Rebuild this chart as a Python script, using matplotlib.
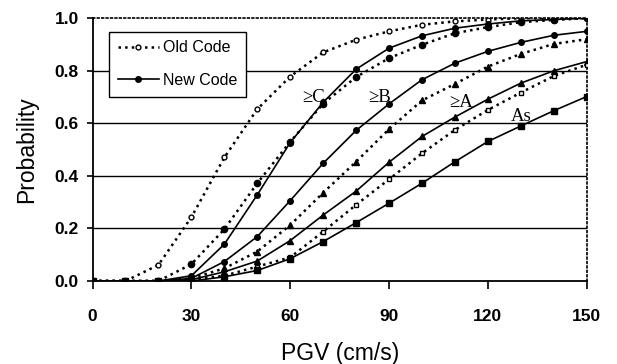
import matplotlib
matplotlib.use("Agg")
import matplotlib.pyplot as plt

pgv = [0, 10, 20, 30, 40, 50, 60, 70, 80, 90, 100, 110, 120, 130, 140, 150]

old_C = [0, 0, 0.061, 0.243, 0.47, 0.654, 0.778, 0.87, 0.918, 0.95, 0.975, 0.988, 0.995, 1.0, 1.0, 1.0]
new_C = [0, 0, 0, 0.02, 0.14, 0.328, 0.527, 0.68, 0.806, 0.886, 0.933, 0.962, 0.978, 0.99, 0.995, 1.0]
old_B = [0, 0, 0, 0.064, 0.197, 0.372, 0.53, 0.675, 0.776, 0.848, 0.899, 0.943, 0.966, 0.985, 0.993, 1.0]
new_B = [0, 0, 0, 0.01, 0.074, 0.169, 0.306, 0.448, 0.573, 0.674, 0.766, 0.829, 0.874, 0.908, 0.935, 0.95]
old_A = [0, 0, 0, 0.01, 0.048, 0.112, 0.213, 0.336, 0.454, 0.578, 0.687, 0.75, 0.816, 0.864, 0.902, 0.92]
new_A = [0, 0, 0, 0.005, 0.035, 0.076, 0.154, 0.251, 0.342, 0.452, 0.55, 0.624, 0.692, 0.753, 0.8, 0.835]
old_As = [0, 0, 0, 0.005, 0.02, 0.055, 0.09, 0.188, 0.29, 0.387, 0.486, 0.575, 0.651, 0.717, 0.78, 0.823]
new_As = [0, 0, 0, 0.0, 0.016, 0.04, 0.085, 0.15, 0.222, 0.296, 0.372, 0.454, 0.531, 0.59, 0.648, 0.702]

labels = ["\u2265C", "\u2265B", "\u2265A", "As"]
label_pos = [(67, 0.70), (87, 0.70), (112, 0.678), (130, 0.625)]

fig = plt.figure(figsize=(6.17, 3.64), dpi=100)
ax = fig.add_axes([0.150, 0.228, 0.801, 0.722])

k = 'black'
ax.plot(pgv, old_C, ':', color=k, lw=1.8, marker='o', ms=3.5, mfc='white', mec=k, mew=1.0, label='Old Code', zorder=3)
ax.plot(pgv, new_C, '-', color=k, lw=1.2, marker='o', ms=4, mfc=k, mec=k, label='New Code', zorder=3)
ax.plot(pgv, old_B, ':', color=k, lw=1.8, marker='o', ms=4.5, mfc=k, mec=k, zorder=3)
ax.plot(pgv, new_B, '-', color=k, lw=1.2, marker='o', ms=4, mfc=k, mec=k, zorder=3)
ax.plot(pgv, old_A, ':', color=k, lw=1.8, marker='^', ms=4.5, mfc=k, mec=k, zorder=3)
ax.plot(pgv, new_A, '-', color=k, lw=1.2, marker='^', ms=4, mfc=k, mec=k, zorder=3)
ax.plot(pgv, old_As, ':', color=k, lw=1.8, marker='s', ms=3.5, mfc='white', mec=k, mew=1.0, zorder=3)
ax.plot(pgv, new_As, '-', color=k, lw=1.2, marker='s', ms=4, mfc=k, mec=k, zorder=3)

for t, (x, y) in zip(labels, label_pos):
    ax.text(x, y, t, family='Liberation Serif', fontsize=13.5, ha='center', va='center', zorder=4)

ax.set_xlim(0, 150)
ax.set_ylim(0, 1.0)
ax.set_xticks([0, 30, 60, 90, 120, 150])
ax.set_yticks([0.0, 0.2, 0.4, 0.6, 0.8, 1.0])
ax.set_yticklabels(['0.0', '0.2', '0.4', '0.6', '0.8', '1.0'])

for y in [0.2, 0.4, 0.6, 0.8]:
    ax.axhline(y, color=k, lw=1.0, zorder=1)

ax.spines['top'].set_linestyle(':')
ax.spines['right'].set_linestyle(':')
ax.spines['top'].set_linewidth(1.2)
ax.spines['right'].set_linewidth(1.2)
ax.spines['left'].set_linewidth(1.3)
ax.spines['bottom'].set_linewidth(1.3)

ax.tick_params(axis='x', direction='out', length=6, width=1.2, labelsize=12.5, pad=14)
ax.tick_params(axis='y', direction='out', length=4, width=1.2, labelsize=12.5, pad=6)
for lab in ax.get_xticklabels() + ax.get_yticklabels():
    lab.set_family('Liberation Sans')
    lab.set_fontweight('bold')

ax.set_xlabel('PGV (cm/s)', family='Liberation Sans', fontsize=16.5, labelpad=13)
ax.set_ylabel('Probability', family='Liberation Sans', fontsize=16.5, labelpad=12)

leg = ax.legend(loc='upper left', bbox_to_anchor=(0.033, 0.949), borderaxespad=0,
                prop={'family': 'Liberation Sans', 'size': 11.5},
                frameon=True, fancybox=False, edgecolor=k, framealpha=1, handlelength=2.6,
                borderpad=0.55, labelspacing=1.1, handletextpad=0.25)
leg.get_frame().set_linewidth(1.0)

fig.savefig('out.png', dpi=100)
